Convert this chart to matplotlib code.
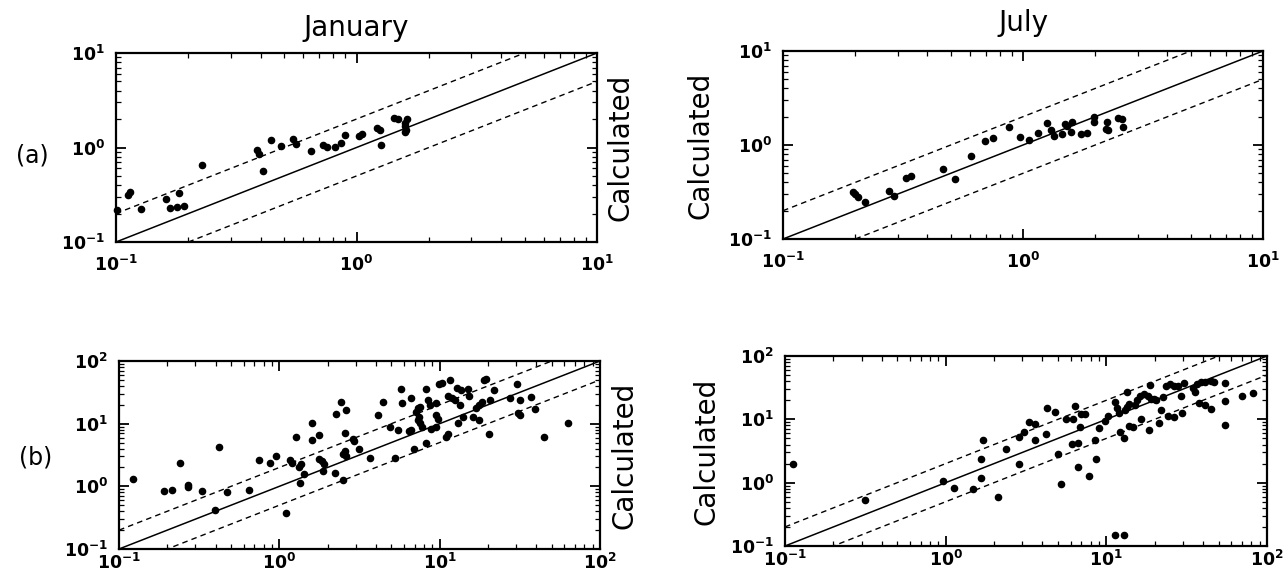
import matplotlib
matplotlib.use('Agg')
import matplotlib.pyplot as plt
from matplotlib.ticker import FuncFormatter, LogLocator
import numpy as np

jan_a_obs = [0.101, 0.112, 0.114, 0.127, 0.161, 0.167, 0.179, 0.191, 0.183, 0.228,
             0.386, 0.394, 0.409, 0.439, 0.484, 0.545, 0.561, 0.647, 0.724, 0.753,
             0.814, 0.864, 0.898, 1.02, 1.05, 1.22, 1.25, 1.27, 1.43, 1.49,
             1.59, 1.61, 1.62, 1.59, 1.59]
jan_a_calc = [0.22, 0.317, 0.335, 0.224, 0.287, 0.229, 0.235, 0.238, 0.33, 0.648,
              0.95, 0.86, 0.56, 1.21, 1.03, 1.23, 1.10, 0.91, 1.05, 1.02,
              1.02, 1.12, 1.35, 1.31, 1.39, 1.61, 1.52, 1.05, 2.05, 2.0,
              1.67, 1.52, 1.98, 1.82, 1.47]

jul_a_obs = [0.196, 0.2, 0.205, 0.219, 0.276, 0.289, 0.326, 0.342, 0.464, 0.52,
             0.607, 0.697, 0.75, 0.874, 0.967, 1.06, 1.15, 1.26, 1.31, 1.34,
             1.46, 1.49, 1.52, 1.58, 1.60, 1.75, 1.85, 1.98, 1.98, 2.23,
             2.22, 2.25, 2.49, 2.59, 2.62]
jul_a_calc = [0.32, 0.30, 0.279, 0.247, 0.328, 0.29, 0.45, 0.47, 0.557, 0.433,
              0.76, 1.10, 1.20, 1.55, 1.22, 1.13, 1.33, 1.73, 1.45, 1.24,
              1.30, 1.67, 1.60, 1.37, 1.74, 1.30, 1.33, 2.0, 1.74, 1.77,
              1.47, 1.43, 1.92, 1.87, 1.56]

jan_b_obs = [0.122, 0.192, 0.213, 0.239, 0.27, 0.27, 0.33, 0.397, 0.419, 0.474,
             0.645, 0.75, 0.88, 0.96, 1.1, 1.17, 1.2, 1.27, 1.33, 1.37,
             1.35, 1.43, 1.61, 1.61, 1.76, 1.76, 1.84, 1.89, 1.87, 2.22,
             2.27, 2.44, 2.61, 2.55, 2.5, 2.56, 2.6, 2.5, 2.86, 2.91,
             3.13, 3.67, 4.1, 4.45, 4.9, 5.27, 5.5, 5.7, 5.8, 6.4,
             6.6, 6.6, 6.9, 7.1, 7.3, 7.5, 7.3, 7.5, 7.8, 7.4,
             8.2, 8.2, 8.4, 8.7, 8.8, 9.5, 9.8, 9.5, 9.9, 10.4,
             9.5, 11.0, 11.3, 11.6, 11.3, 11.9, 12.4, 12.9, 13.5, 13.1,
             13.4, 14.0, 15.0, 15.3, 16.2, 16.8, 17.5, 18.8, 19.5, 20.3,
             20.5, 21.7, 27.3, 30.3, 30.8, 31.7, 31.8, 37.0, 39.6, 45.0,
             63.0, 18.3, 17.5]
jan_b_calc = [1.30, 0.83, 0.86, 2.40, 1.06, 0.97, 0.83, 0.42, 4.17, 0.81,
              0.86, 2.59, 2.40, 3.1, 0.38, 2.59, 2.34, 6.1, 2.07, 2.28,
              1.13, 1.59, 10.2, 5.4, 6.5, 2.7, 2.5, 2.3, 1.73, 1.63,
              14.3, 22.0, 16.6, 7.2, 3.3, 3.6, 3.1, 1.24, 5.7, 5.2,
              3.9, 2.8, 13.5, 22.0, 9.0, 2.8, 7.8, 35.8, 21.0, 7.5,
              8.0, 25.5, 3.9, 15.6, 17.5, 18.4, 11.5, 10.2, 9.0, 13.0,
              4.9, 36.0, 24.0, 20.0, 8.2, 14.0, 12.0, 21.0, 43.0, 45.0,
              9.0, 6.2, 6.9, 50.0, 28.0, 26.0, 24.0, 37.0, 34.0, 10.2,
              20.0, 13.0, 36.0, 28.0, 13.0, 17.5, 20.0, 50.0, 51.0, 6.9,
              24.0, 35.0, 25.5, 43.0, 14.6, 13.5, 24.0, 27.0, 17.0, 6.2,
              10.2, 22.0, 11.5]

jul_b_obs = [0.112, 0.314, 0.967, 1.12, 1.49, 1.67, 1.67, 1.71, 2.11, 2.37,
             2.87, 2.87, 3.08, 3.3, 3.58, 3.6, 4.2, 4.3, 4.8, 5.0,
             5.2, 5.6, 6.2, 6.1, 6.4, 6.7, 6.7, 6.9, 7.0, 7.4,
             7.8, 8.5, 8.6, 9.0, 9.8, 10.2, 11.3, 12.8, 11.3, 11.6,
             12.0, 12.2, 12.8, 13.0, 13.5, 13.8, 13.8, 13.5, 14.7, 15.1,
             15.6, 16.2, 16.4, 17.2, 18.1, 19.0, 18.3, 18.7, 19.9, 20.5,
             21.3, 21.9, 22.5, 23.5, 24.9, 26.4, 24.1, 26.5, 28.0, 29.1,
             29.5, 30.6, 34.5, 36.5, 38.9, 41.3, 45.0, 46.8, 37.6, 41.3,
             44.5, 35.5, 55.0, 54.5, 54.5, 70.0, 82.0]
jul_b_calc = [1.97, 0.53, 1.08, 0.83, 0.79, 2.36, 1.2, 4.7, 0.6, 3.36,
              1.97, 5.3, 6.4, 9.1, 4.8, 8.3, 5.9, 14.9, 13.2, 2.8,
              0.94, 10.2, 10.2, 4.1, 16.2, 4.3, 1.75, 7.5, 12.1, 12.1,
              1.29, 4.7, 2.4, 7.2, 9.5, 11.3, 0.149, 0.149, 19.0, 15.0,
              12.4, 6.2, 5.0, 14.0, 15.7, 17.5, 7.9, 27.0, 7.5, 17.0,
              20.0, 23.0, 10.0, 24.8, 23.2, 20.6, 6.8, 34.8, 21.3, 20.0,
              8.9, 14.2, 22.6, 33.0, 36.7, 33.0, 11.3, 11.0, 33.5, 23.0,
              12.5, 37.7, 31.0, 36.7, 38.6, 39.5, 40.5, 39.0, 17.9, 16.8,
              14.5, 27.0, 38.0, 19.5, 8.0, 23.0, 26.5]

lim_a = (0.1, 10)
lim_b = (0.1, 100)

# ── Figura ─────────────────────────────────────────────────────────────────

W, H = 1284, 573
plt.rcParams['font.family'] = ['DejaVu Sans']
fig = plt.figure(figsize=(W / 100, H / 100), dpi=100)


def box(x0, y0, x1, y1):
    return [x0 / W, 1 - y1 / H, (x1 - x0) / W, (y1 - y0) / H]


pot10 = FuncFormatter(lambda v, pos: r'$\mathbf{10^{%d}}$' % round(np.log10(v)))


def painel(rect, obs, calc, lim, xpad):
    ax = fig.add_axes(rect)
    ax.set_xscale('log')
    ax.set_yscale('log')
    ax.set_xlim(lim)
    ax.set_ylim(lim)
    xs = np.array(lim)
    ax.plot(xs, xs, color='black', lw=1.1)
    ax.plot(xs, xs * 2, color='black', lw=1.0, ls=(0, (4, 3)))
    ax.plot(xs, xs * 0.5, color='black', lw=1.0, ls=(0, (4, 3)))
    ax.scatter(obs, calc, s=20, color='black', zorder=3, clip_on=False)
    for eixo in (ax.xaxis, ax.yaxis):
        eixo.set_major_locator(LogLocator(base=10, numticks=10))
        eixo.set_major_formatter(pot10)
    ax.tick_params(which='both', direction='in', top=True, right=True,
                   labelsize=12.5)
    ax.tick_params(axis='x', which='major', pad=xpad)
    ax.tick_params(axis='y', which='major', pad=8)
    ax.tick_params(which='major', length=7, width=1.3)
    ax.tick_params(which='minor', length=3.5, width=0.9)
    for sp in ax.spines.values():
        sp.set_linewidth(1.6)
    return ax


ax1 = painel(box(116, 53, 597, 242), jan_a_obs, jan_a_calc, lim_a, 9)
ax2 = painel(box(783, 51, 1263, 239), jul_a_obs, jul_a_calc, lim_a, 9)
ax3 = painel(box(119, 361, 600, 549), jan_b_obs, jan_b_calc, lim_b, 3)
ax4 = painel(box(785, 356, 1267, 546), jul_b_obs, jul_b_calc, lim_b, 3)

fig.text(356 / W, 1 - 28 / H, 'January', fontsize=20, ha='center', va='center')
fig.text(1023 / W, 1 - 23 / H, 'July', fontsize=20, ha='center', va='center')

for ax, xc in ((ax1, 621), (ax3, 625), (ax2, 701), (ax4, 706)):
    pos = ax.get_position()
    fig.text(xc / W, pos.y0 + pos.height / 2, 'Calculated', fontsize=20,
             rotation=90, ha='center', va='center')

fig.text(32 / W, 1 - 155 / H, '(a)', fontsize=17, ha='center', va='center')
fig.text(36 / W, 1 - 458 / H, '(b)', fontsize=17, ha='center', va='center')

plt.savefig('out.png', dpi=100)
plt.close()
